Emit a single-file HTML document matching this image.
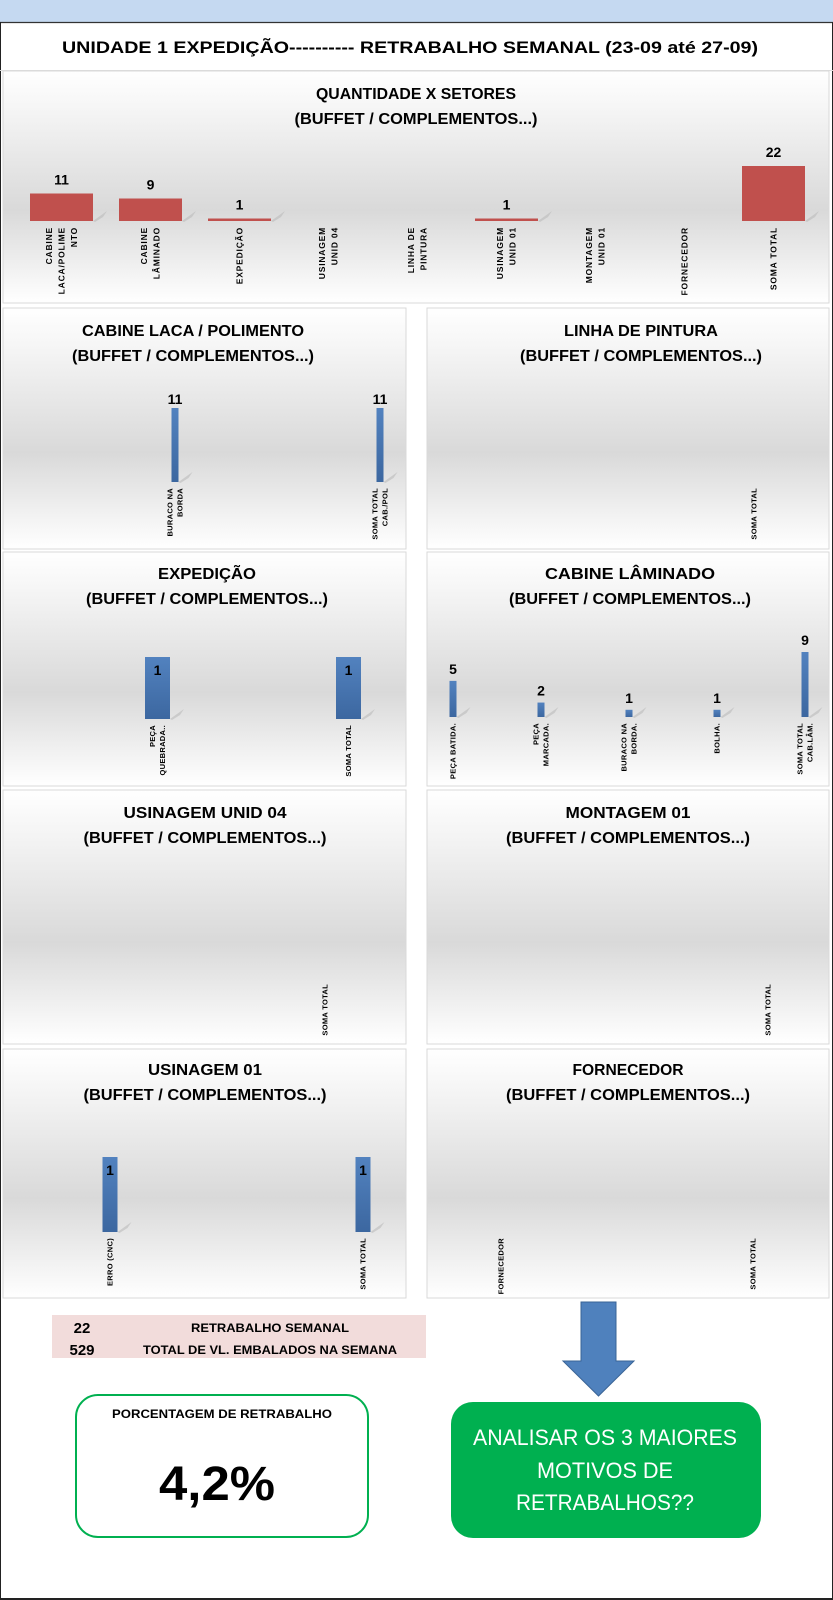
<!DOCTYPE html>
<html><head><meta charset="utf-8"><style>
html,body{margin:0;padding:0;background:#fff;}
svg{display:block;font-family:"Liberation Sans",Arial,sans-serif;}
</style></head><body>
<svg id="root" width="833" height="1600" viewBox="0 0 833 1600" xmlns="http://www.w3.org/2000/svg">
<defs>
<linearGradient id="pbg" x1="0" y1="0" x2="0" y2="1">
<stop offset="0" stop-color="#ffffff"/><stop offset="0.15" stop-color="#f6f6f6"/><stop offset="0.6" stop-color="#d9d9d9"/><stop offset="1" stop-color="#ffffff"/>
</linearGradient>
<linearGradient id="blueBar" x1="0" y1="0" x2="0" y2="1"><stop offset="0" stop-color="#5282bf"/><stop offset="1" stop-color="#3c67a0"/></linearGradient>
</defs>
<rect x="0" y="0" width="833" height="22" fill="#c5d9f1"/>
<line x1="0" y1="22.5" x2="833" y2="22.5" stroke="#333" stroke-width="1.2"/>
<line x1="0.5" y1="22" x2="0.5" y2="1600" stroke="#222" stroke-width="1"/>
<line x1="832.5" y1="22" x2="832.5" y2="1600" stroke="#222" stroke-width="1"/>
<line x1="0" y1="1599" x2="833" y2="1599" stroke="#222" stroke-width="2"/>
<text x="410" y="53" text-anchor="middle" font-weight="bold" font-size="17" textLength="696" lengthAdjust="spacingAndGlyphs">UNIDADE 1 EXPEDIÇÃO----------   RETRABALHO SEMANAL (23-09 até 27-09)</text>
<line x1="0" y1="70.5" x2="833" y2="70.5" stroke="#ddd" stroke-width="1"/>
<g id="charts"></g>

<rect x="52" y="1315" width="374" height="43" fill="#f2dcdb"/>
<text x="82" y="1333" text-anchor="middle" font-size="15" font-weight="bold">22</text>
<text x="270" y="1332" text-anchor="middle" font-size="12" font-weight="bold" textLength="158" lengthAdjust="spacingAndGlyphs">RETRABALHO SEMANAL</text>
<text x="82" y="1355" text-anchor="middle" font-size="15" font-weight="bold">529</text>
<text x="270" y="1354" text-anchor="middle" font-size="12" font-weight="bold" textLength="254" lengthAdjust="spacingAndGlyphs">TOTAL DE VL. EMBALADOS NA SEMANA</text>

<polygon points="581,1302 616,1302 616,1361 634,1361 598.5,1396 563,1361 581,1361" fill="#4f81bd" stroke="#3a6496" stroke-width="1"/>

<rect x="76" y="1395" width="292" height="142" rx="22" fill="#fff" stroke="#00b050" stroke-width="2"/>
<text x="222" y="1418" text-anchor="middle" font-size="12" font-weight="bold" textLength="220" lengthAdjust="spacingAndGlyphs">PORCENTAGEM DE RETRABALHO</text>
<text x="217" y="1500" text-anchor="middle" font-size="48" font-weight="bold" textLength="116" lengthAdjust="spacingAndGlyphs">4,2%</text>

<rect x="451" y="1402" width="310" height="136" rx="22" fill="#00b050"/>
<g fill="#fff" font-size="22" text-anchor="middle">
<text x="605" y="1445" textLength="264" lengthAdjust="spacingAndGlyphs">ANALISAR OS 3 MAIORES</text>
<text x="605" y="1478" textLength="136" lengthAdjust="spacingAndGlyphs">MOTIVOS DE</text>
<text x="605" y="1510" textLength="178" lengthAdjust="spacingAndGlyphs">RETRABALHOS??</text>
</g>
</svg>
<script>
// ---- data ----
const setorCats = ["CABINE|LACA/POLIME|NTO","CABINE|LÂMINADO","EXPEDIÇÃO","USINAGEM|UNID 04","LINHA DE|PINTURA","USINAGEM|UNID 01","MONTAGEM|UNID 01","FORNECEDOR","SOMA TOTAL"];
const setorVals = [11,9,1,0,0,1,0,0,22];
const lacaCats = ["BURACO NA|BORDA","SOMA TOTAL|CAB./POL"];
const lacaVals = [11,11];
const linhaCats = ["SOMA TOTAL"];
const linhaVals = [0];
const expedCats = ["PEÇA|QUEBRADA..","SOMA TOTAL"];
const expedVals = [1,1];
const lamCats = ["PEÇA BATIDA.","PEÇA|MARCADA.","BURACO NA|BORDA.","BOLHA.","SOMA TOTAL|CAB.LÂM."];
const lamVals = [5,2,1,1,9];
const usi04Cats = ["SOMA TOTAL"];
const usi04Vals = [0];
const montCats = ["SOMA TOTAL"];
const montVals = [0];
const usi01Cats = ["ERRO (CNC)","SOMA TOTAL"];
const usi01Vals = [1,1];
const fornCats = ["FORNECEDOR","SOMA TOTAL"];
const fornVals = [0,0];

const NS = "http://www.w3.org/2000/svg";
const root = document.getElementById('charts');
function mk(tag, attrs, parent){
  const e = document.createElementNS(NS, tag);
  for (const k in attrs) e.setAttribute(k, attrs[k]);
  (parent||root).appendChild(e);
  return e;
}

function panel(cfg, cats, vals){
  const g = mk('g', {});
  
  
  const bg = mk('rect', {x:cfg.x, y:cfg.y, width:cfg.w, height:cfg.h, fill:'url(#pbg)', stroke:'#d9d9d9', 'stroke-width':1}, g);
  
  
  cfg.titles.forEach((t, i) => {
    const tx = mk('text', {x:cfg.tx, y:cfg.y + cfg.t1 + i*25, 'text-anchor':'middle', 'font-size':16, 'font-weight':'bold', textLength:t[1], lengthAdjust:'spacingAndGlyphs'}, g);
    tx.textContent = t[0];
    
    
  });
  const xc = i => cfg.left + cfg.band * (i + 0.5);
  const yh = v => v / cfg.yMax * cfg.plotH;
  cats.forEach((c, i) => {
    const cx = xc(i);
    const v = vals[i];
    if (v > 0) {
      const h = yh(v);
      const top = cfg.base - h;
      const sh = mk('polygon', {points:`${cx+cfg.barW/2},${cfg.base} ${cx+cfg.barW/2+14},${cfg.base-10} ${cx+cfg.barW/2+10},${cfg.base-4} ${cx+cfg.barW/2+2},${cfg.base+1}`, fill:'#bbb', opacity:0.6}, g);
      
      
      const r = mk('rect', {x:cx - cfg.barW/2, y:top, width:cfg.barW, height:h, fill:cfg.color}, g);
      
      
      const ly = cfg.inside ? top + 18 : top - cfg.lgap;
      const lt = mk('text', {x:cx, y:ly, 'text-anchor':'middle', 'font-size':cfg.vfs, 'font-weight':'bold', fill:'#000'}, g);
      lt.textContent = v;
      
      
    }
    const lines = c.split('|');
    const n = lines.length;
    lines.forEach((ln, j) => {
      const lx = cx + (j - (n-1)/2) * cfg.lh + cfg.cfs*0.35;
      const ly = cfg.base + 6;
      const t = mk('text', {x:0, y:0, transform:`translate(${lx},${ly}) rotate(-90)`, 'text-anchor':'end', 'font-size':cfg.cfs, 'font-weight':'bold', 'letter-spacing':cfg.ls}, g);
      t.textContent = ln;
      
      
    });
  });
}

panel({name:'sectors-chart', x:3, y:71, w:826, h:232, tx:416, t1:28, titles:[['QUANTIDADE X SETORES',200],['(BUFFET / COMPLEMENTOS...)',243]],
  left:17, band:89, base:221, yMax:24, plotH:60, barW:63, color:'#c0504d', vfs:14, lgap:9, cfs:8.5, lh:12.5, ls:0.8}, setorCats, setorVals);

const L = {x:3, w:403}, R = {x:427, w:402};
panel({name:'cabine-laca-chart', x:L.x, y:308, w:L.w, h:241, tx:193, t1:28, titles:[['CABINE LACA / POLIMENTO',222],['(BUFFET / COMPLEMENTOS...)',242]],
  left:72.5, band:205, base:482, yMax:11, plotH:74, barW:7, color:'url(#blueBar)', vfs:14, lgap:4, cfs:7.5, lh:10, ls:0.3}, lacaCats, lacaVals);
panel({name:'linha-pintura-chart', x:R.x, y:308, w:R.w, h:241, tx:641, t1:28, titles:[['LINHA DE PINTURA',154],['(BUFFET / COMPLEMENTOS...)',242]],
  left:654, band:200, base:482, yMax:1, plotH:74, barW:7, color:'url(#blueBar)', vfs:14, lgap:4, cfs:7.5, lh:10, ls:0.3}, linhaCats, linhaVals);
panel({name:'expedicao-chart', x:L.x, y:552, w:L.w, h:234, tx:207, t1:27, titles:[['EXPEDIÇÃO',98],['(BUFFET / COMPLEMENTOS...)',242]],
  left:62, band:191, base:719, yMax:1, plotH:62, barW:25, color:'url(#blueBar)', vfs:14, lgap:4, cfs:7.5, lh:10, ls:0.3, inside:true}, expedCats, expedVals);
panel({name:'cabine-laminado-chart', x:R.x, y:552, w:R.w, h:234, tx:630, t1:27, titles:[['CABINE LÂMINADO',170],['(BUFFET / COMPLEMENTOS...)',242]],
  left:409, band:88, base:717, yMax:9, plotH:65, barW:7, color:'url(#blueBar)', vfs:14, lgap:7, cfs:7.5, lh:10, ls:0.3}, lamCats, lamVals);
panel({name:'usinagem-unid04-chart', x:L.x, y:790, w:L.w, h:254, tx:205, t1:28, titles:[['USINAGEM UNID 04',163],['(BUFFET / COMPLEMENTOS...)',243]],
  left:225, band:200, base:978, yMax:1, plotH:70, barW:7, color:'url(#blueBar)', vfs:14, lgap:4, cfs:7.5, lh:10, ls:0.3}, usi04Cats, usi04Vals);
panel({name:'montagem-01-chart', x:R.x, y:790, w:R.w, h:254, tx:628, t1:28, titles:[['MONTAGEM 01',125],['(BUFFET / COMPLEMENTOS...)',244]],
  left:668, band:200, base:978, yMax:1, plotH:70, barW:7, color:'url(#blueBar)', vfs:14, lgap:4, cfs:7.5, lh:10, ls:0.3}, montCats, montVals);
panel({name:'usinagem-01-chart', x:L.x, y:1049, w:L.w, h:249, tx:205, t1:26, titles:[['USINAGEM 01',114],['(BUFFET / COMPLEMENTOS...)',243]],
  left:-16.5, band:253, base:1232, yMax:1, plotH:75, barW:15, color:'url(#blueBar)', vfs:14, lgap:4, cfs:7.5, lh:10, ls:0.3, inside:true}, usi01Cats, usi01Vals);
panel({name:'fornecedor-chart', x:R.x, y:1049, w:R.w, h:249, tx:628, t1:26, titles:[['FORNECEDOR',111],['(BUFFET / COMPLEMENTOS...)',244]],
  left:375, band:252, base:1232, yMax:1, plotH:75, barW:7, color:'url(#blueBar)', vfs:14, lgap:4, cfs:7.5, lh:10, ls:0.3}, fornCats, fornVals);
</script>
</body></html>
